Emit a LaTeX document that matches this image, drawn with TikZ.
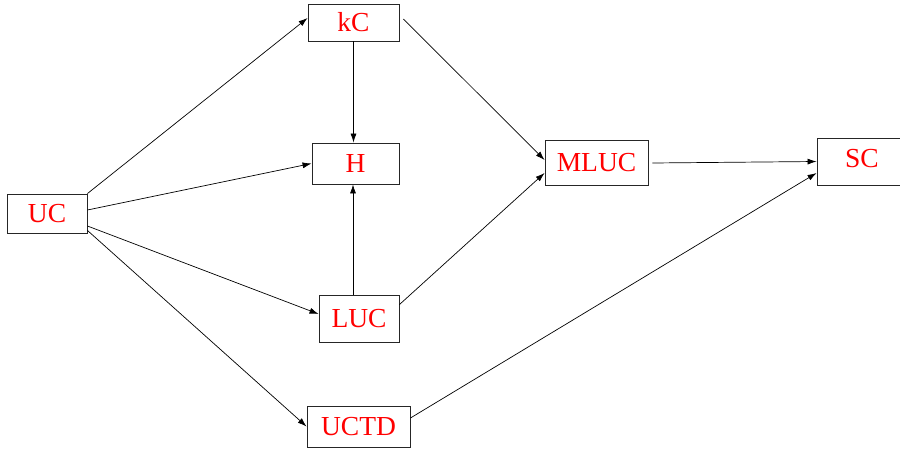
\documentclass[tikz,border=0pt]{standalone}
\usepackage{fontspec}
\setmainfont{Liberation Serif}
\usetikzlibrary{arrows.meta}
\begin{document}
\begin{tikzpicture}[x=1pt,y=-1pt,
  box/.style={draw=black!85, line width=0.9pt, fill=white, inner sep=0pt,
    text=red, font=\fontsize{27.5}{31}\selectfont, text height=18pt, text depth=0pt},
  conn/.style={line width=0.7pt, -{Latex[length=9pt,width=6pt]}}]
\clip (0,0) rectangle (900,450);
\fill[white] (0,0) rectangle (900,450);
\node[box, minimum width=80pt, minimum height=39pt] (UC) at (47,213.5) {UC};
\node[box, minimum width=91pt, minimum height=37pt, text depth=-2pt] (kC) at (353.5,22.5) {kC};
\node[box, minimum width=87pt, minimum height=41pt] (H) at (355.5,163.5) {H};
\node[box, minimum width=80pt, minimum height=47pt] (LUC) at (359,318.5) {LUC};
\node[box, minimum width=103pt, minimum height=41pt] (UCTD) at (358.5,426.5) {UCTD};
\node[box, minimum width=103pt, minimum height=45pt] (MLUC) at (596.5,162.5) {MLUC};
\node[box, minimum width=90pt, minimum height=47pt, text depth=7pt] (SC) at (862,161.5) {SC};
\draw[conn] (UC.north east) -- ([shift={(0,-4.5)}]kC.west);
\draw[conn] ([shift={(0,-3.5)}]UC.east) -- (H.west);
\draw[conn] ([shift={(0,12.5)}]UC.east) -- ([shift={(0,-4.5)}]LUC.west);
\draw[conn] ([shift={(0,-3)}]UC.south east) -- (UCTD.west);
\draw[conn] (kC.south) -- (kC.south |- H.north);
\draw[conn] ([shift={(-6,0)}]LUC.north) -- ([shift={(-6,0)}]LUC.north |- H.south);
\draw[conn] ([shift={(4,-3.5)}]kC.east) -- ([shift={(0,-2.5)}]MLUC.west);
\draw[conn] ([shift={(0,10)}]LUC.north east) -- ([shift={(0,10.5)}]MLUC.west);
\draw[conn] ([shift={(4,0.5)}]MLUC.east) -- (SC.west);
\draw[conn] ([shift={(0,-8.5)}]UCTD.east) -- ([shift={(0,11.5)}]SC.west);
\end{tikzpicture}
\end{document}
